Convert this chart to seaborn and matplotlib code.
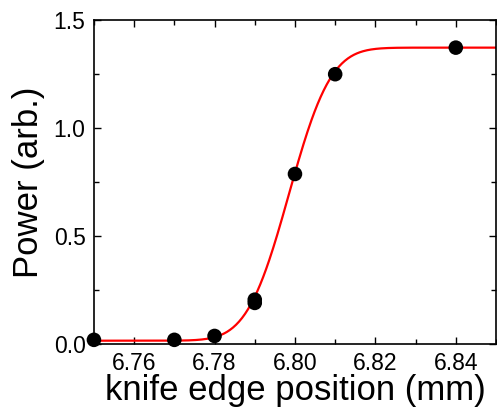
import math
import numpy as np
import pandas as pd
import matplotlib
matplotlib.use("Agg")
import matplotlib.pyplot as plt
from matplotlib.ticker import MultipleLocator
import seaborn as sns

# measured knife-edge points
position = [6.75, 6.77, 6.78, 6.79, 6.79, 6.80, 6.81, 6.84]
power = [0.019, 0.019, 0.037, 0.19, 0.205, 0.787, 1.249, 1.372]

# error-function fit parameters (offset, amplitude, centre, width)
fit_offset = 0.015
fit_amp = 1.357
fit_x0 = 6.7985
fit_w = 0.0116

x_ticks = [6.76, 6.78, 6.80, 6.82, 6.84]
x_ticklabels = ["6.76", "6.78", "6.80", "6.82", "6.84"]
y_ticks = [0.0, 0.5, 1.0, 1.5]
y_ticklabels = ["0.0", "0.5", "1.0", "1.5"]

sns.set_theme(style="ticks")
plt.rcParams['font.family'] = ['Liberation Sans', 'DejaVu Sans']
plt.rcParams['text.color'] = 'black'
plt.rcParams['axes.labelcolor'] = 'black'
plt.rcParams['xtick.color'] = 'black'
plt.rcParams['ytick.color'] = 'black'
plt.rcParams['axes.edgecolor'] = 'black'

xfit = np.linspace(6.75, 6.85, 400)
yfit = fit_offset + fit_amp / 2 * (1 + np.array([math.erf((x - fit_x0) / fit_w) for x in xfit]))
fit_df = pd.DataFrame({"x": xfit, "y": yfit})
pts_df = pd.DataFrame({"x": position, "y": power})

fig = plt.figure(figsize=(4.97, 4.08), dpi=100)
ax = fig.add_axes([0.189, 0.157, 0.809, 0.794])

sns.lineplot(data=fit_df, x="x", y="y", color="red", lw=1.6, ax=ax, zorder=2)
sns.scatterplot(data=pts_df, x="x", y="y", color="black", s=110, edgecolor="none",
                ax=ax, zorder=3, clip_on=False)

ax.set_xlim(6.75, 6.85)
ax.set_ylim(0, 1.5)
ax.set_xticks(x_ticks)
ax.set_xticklabels(x_ticklabels)
ax.set_yticks(y_ticks)
ax.set_yticklabels(y_ticklabels)
ax.xaxis.set_minor_locator(MultipleLocator(0.01))
ax.yaxis.set_minor_locator(MultipleLocator(0.25))

ax.tick_params(which="both", direction="in", top=True, right=True, width=1, labelsize=16.5, pad=6)
ax.tick_params(which="major", length=5)
ax.tick_params(which="minor", length=3.5)
for s in ax.spines.values():
    s.set_linewidth(1.2)
    s.set_visible(True)

ax.set_xlabel("knife edge position (mm)", fontsize=25, labelpad=-1)
ax.set_ylabel("Power (arb.)", fontsize=25, labelpad=6)

fig.savefig("out.png", dpi=100)
